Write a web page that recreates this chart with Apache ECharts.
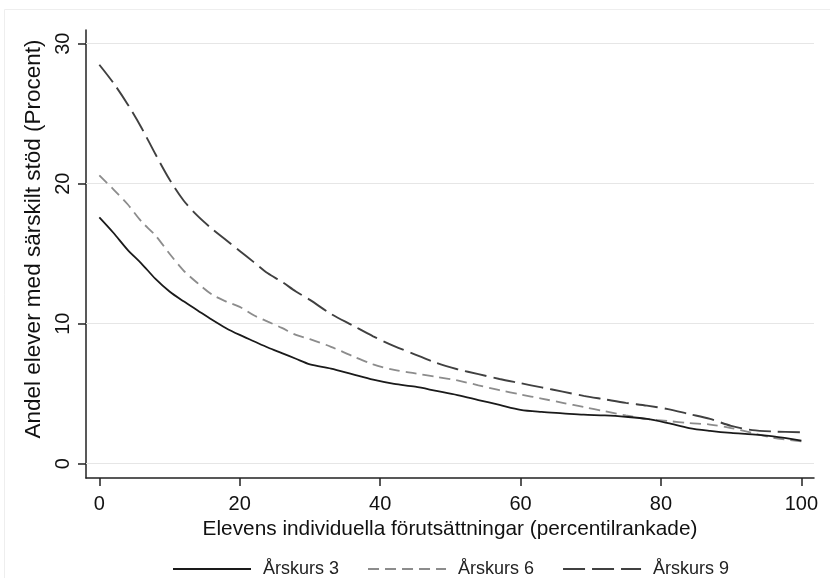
<!DOCTYPE html>
<html>
<head>
<meta charset="utf-8">
<script src="https://cdn.jsdelivr.net/npm/echarts@6/dist/echarts.min.js"></script>
<style>
html,body{margin:0;padding:0;background:#fff;}
#chart{width:830px;height:578px;}
</style>
</head>
<body>
<div id="chart"></div>
<script>
var percentiles = [0, 2, 4, 6, 8, 10, 12, 14, 16, 18, 20, 22, 24, 26, 28, 30, 33, 36, 39, 42, 45, 48, 51, 54, 57, 60, 63, 66, 69, 72, 75, 78, 81, 84, 87, 90, 93, 96, 100];
var arskurs3 = [17.6, 16.5, 15.3, 14.3, 13.2, 12.3, 11.6, 10.95, 10.3, 9.7, 9.2, 8.75, 8.3, 7.9, 7.5, 7.1, 6.8, 6.4, 6.0, 5.7, 5.5, 5.2, 4.9, 4.55, 4.2, 3.85, 3.7, 3.6, 3.5, 3.45, 3.35, 3.2, 2.9, 2.55, 2.35, 2.2, 2.1, 1.95, 1.65];
var arskurs6 = [20.6, 19.6, 18.55, 17.3, 16.3, 15.0, 13.8, 12.9, 12.1, 11.6, 11.2, 10.6, 10.15, 9.7, 9.2, 8.9, 8.35, 7.7, 7.1, 6.7, 6.45, 6.2, 5.95, 5.6, 5.25, 4.95, 4.65, 4.35, 4.05, 3.75, 3.45, 3.2, 3.05, 2.9, 2.8, 2.55, 2.2, 1.85, 1.6];
var arskurs9 = [28.5, 27.2, 25.7, 24.0, 22.1, 20.3, 18.8, 17.7, 16.8, 16.0, 15.2, 14.4, 13.6, 13.0, 12.3, 11.7, 10.7, 9.9, 9.1, 8.4, 7.8, 7.2, 6.75, 6.4, 6.05, 5.75, 5.45, 5.15, 4.85, 4.6, 4.35, 4.15, 3.9, 3.55, 3.2, 2.7, 2.4, 2.3, 2.25];
var xTicks = [0, 20, 40, 60, 80, 100];
var yTicks = [0, 10, 20, 30];
var seriesNames = ['Årskurs 3', 'Årskurs 6', 'Årskurs 9'];
var xTitle = 'Elevens individuella förutsättningar (percentilrankade)';
var yTitle = 'Andel elever med särskilt stöd (Procent)';

function pairs(ys) { return percentiles.map(function (x, i) { return [x, ys[i]]; }); }

var FONT = '"Liberation Sans", Arial, sans-serif';
var chart = echarts.init(document.getElementById('chart'));
chart.setOption({
  animation: false,
  backgroundColor: '#ffffff',
  textStyle: { fontFamily: FONT },
  graphic: [{
    type: 'rect', shape: { x: 4.5, y: 9.5, width: 840, height: 580 },
    style: { fill: 'none', stroke: '#eeeeee', lineWidth: 1 }, silent: true, z: -1
  }],
  grid: { left: 86, right: 16, top: 30, bottom: 100, containLabel: false },
  legend: {
    left: 167, bottom: -5, itemWidth: 78, itemHeight: 14, itemGap: 28,
    data: seriesNames,
    itemStyle: { opacity: 0 },
    textStyle: { fontFamily: FONT, fontSize: 18, color: '#222', padding: [0, 0, 0, 7] }
  },
  xAxis: {
    type: 'value', min: -1.9, max: 101.8,
    name: xTitle, nameLocation: 'middle', nameGap: 33,
    nameTextStyle: { fontFamily: FONT, fontSize: 20.8, color: '#111' },
    axisLine: { show: true, onZero: false, lineStyle: { color: '#222', width: 1.5 } },
    axisTick: { show: true, customValues: xTicks, length: 8, lineStyle: { color: '#222', width: 1.5 } },
    axisLabel: { customValues: xTicks, margin: 16, fontFamily: FONT, fontSize: 20, color: '#111' },
    splitLine: { show: false }
  },
  yAxis: {
    type: 'value', min: -1.02, max: 30.98,
    name: yTitle, nameLocation: 'middle', nameGap: 25, nameRotate: 90,
    nameTextStyle: { fontFamily: FONT, fontSize: 22.5, color: '#111', padding: [0, 0, 0, 30] },
    axisLine: { show: true, onZero: false, lineStyle: { color: '#222', width: 1.5 } },
    axisTick: { show: true, customValues: yTicks, length: 8, lineStyle: { color: '#222', width: 1.5 } },
    axisLabel: { customValues: yTicks, rotate: 90, margin: 13, fontFamily: FONT, fontSize: 20, color: '#111' },
    splitLine: { show: false }
  },
  series: [
    {
      name: seriesNames[0], type: 'line', data: pairs(arskurs3), smooth: 0.3,
      showSymbol: false, symbol: 'none', z: 5,
      lineStyle: { color: '#1a1a1a', width: 1.8, type: 'solid' },
      itemStyle: { color: '#1a1a1a' },
      markLine: {
        silent: true, symbol: 'none', label: { show: false }, animation: false,
        lineStyle: { color: '#e6e6e6', width: 1.2, type: 'solid' },
        data: yTicks.map(function (v) { return { yAxis: v }; }),
        z: 1
      }
    },
    {
      name: seriesNames[1], type: 'line', data: pairs(arskurs6), smooth: 0.3,
      showSymbol: false, symbol: 'none', z: 4,
      lineStyle: { color: '#8c8c8c', width: 1.8, type: [11, 6] },
      itemStyle: { color: '#8c8c8c' }
    },
    {
      name: seriesNames[2], type: 'line', data: pairs(arskurs9), smooth: 0.3,
      showSymbol: false, symbol: 'none', z: 3,
      lineStyle: { color: '#404040', width: 1.9, type: [22, 7] },
      itemStyle: { color: '#404040' }
    }
  ]
});
</script>
</body>
</html>
